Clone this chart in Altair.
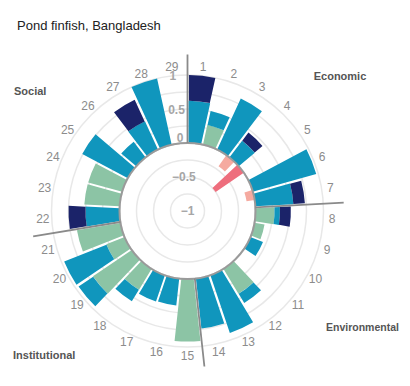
import math
import altair as alt
import pandas as pd

# ---- data ----
spokes = list(range(1, 30))
green = [0, 0.30, 0, 0, 0, 0, 0, 0.28, 0.15, 0, 0, 0.43, 0, 0, 0.92,
         0, 0, 0.36, 0.69, 0.29, 0.65, 0, 0.52, 0.52, 0, 0, 0, 0, 0]
teal = [0.62, 0.21, 0.83, 0.31, 0, 0.97, 0.56, 0.08, 0, 0.20, 0, 0.16, 0.90, 0.74, 0,
        0.40, 0.41, 0.20, 0.26, 0.67, 0, 0.50, 0, 0, 0.76, 0.29, 0.46, 1.0, 0]
navy = [0.38, 0, 0, 0.15, 0, 0, 0.17, 0.16, 0, 0, 0, 0, 0, 0, 0,
        0, 0, 0, 0, 0, 0, 0.25, 0, 0, 0, 0, 0.35, 0, 0]
pink_light = [0, 0, 0, -0.20, 0, 0, -0.12, 0, 0, 0, 0, 0, 0, 0, 0,
              0, 0, 0, 0, 0, 0, 0, 0, 0, 0, 0, 0, 0, 0]
pink_dark = [0, 0, 0, 0, -0.50, 0, 0, 0, 0, 0, 0, 0, 0, 0, 0,
             0, 0, 0, 0, 0, 0, 0, 0, 0, 0, 0, 0, 0, 0]

tick_values = [-1, -0.5, 0.5, 1]
tick_labels = ["\u22121", "\u22120.5", "0.5", "1"]
grid_values = [-0.75, -0.5, -0.25, 0.25, 0.5, 0.75, 1.0]
section_bounds = [0, 7, 14, 21]

group_names = ["green", "teal", "navy", "pink_light", "pink_dark"]
group_colors = ["#8cc4a5", "#1096bd", "#1b2369", "#f5aaa0", "#ee6e7d"]

# ---- tables ----
rows = []
for i, k in enumerate(spokes):
    base = 0.0
    for name, arr in (("green", green), ("teal", teal), ("navy", navy)):
        v = arr[i]
        if v > 0:
            rows.append(dict(spoke=k, grp=name, t0=k - 1, t1=k, r0=base, r1=base + v))
            base += v
seg = pd.DataFrame(rows)

prow = []
for i, k in enumerate(spokes):
    for name, arr in (("pink_light", pink_light), ("pink_dark", pink_dark)):
        if arr[i] < 0:
            prow.append(dict(spoke=k, grp=name, t0=k - 1.2, t1=k - 0.5, r0=0.0, r1=arr[i]))
pinks = pd.DataFrame(prow)

grid = pd.DataFrame({"v": grid_values, "t0": 0, "t1": 29})
zero = pd.DataFrame({"v": [0.0], "t0": [0], "t1": [29]})
bounds = pd.DataFrame({"b": section_bounds, "r0": 0.0, "r1": 1.3})
lab = pd.DataFrame({"spoke": spokes, "t": [k - 0.5 for k in spokes], "r": 1.13,
                    "txt": [str(k) for k in spokes]})
ticks = pd.DataFrame({"v": tick_values, "txt": tick_labels, "t": 28.5})
tick0 = pd.DataFrame({"v": [0.0], "txt": ["0"], "t": [28.5]})

CX, CY = 179.5, 203
TH = alt.Scale(domain=[0, 29], range=[0, 2 * math.pi])
RS = alt.Scale(type="linear", domain=[-1, 1], range=[0, 136], zero=False, nice=False)
COL = alt.Scale(domain=group_names, range=group_colors)
cx = alt.value(CX)
cy = alt.value(CY)

grid_layer = alt.Chart(grid).mark_arc(fillOpacity=0, stroke="#e8e8e8", strokeWidth=1.5).encode(
    theta=alt.Theta("t0:Q", scale=TH, stack=False), theta2="t1:Q",
    radius=alt.Radius("v:Q", scale=RS), x=cx, y=cy)

bars = alt.Chart(seg).mark_arc(padAngle=0.016).encode(
    theta=alt.Theta("t0:Q", scale=TH, stack=False), theta2="t1:Q",
    radius=alt.Radius("r1:Q", scale=RS), radius2="r0:Q",
    color=alt.Color("grp:N", scale=COL, legend=None), x=cx, y=cy)

pink_layer = alt.Chart(pinks).mark_arc().encode(
    theta=alt.Theta("t0:Q", scale=TH, stack=False), theta2="t1:Q",
    radius=alt.Radius("r1:Q", scale=RS), radius2="r0:Q",
    color=alt.Color("grp:N", scale=COL, legend=None), x=cx, y=cy)

zero_layer = alt.Chart(zero).mark_arc(fillOpacity=0, stroke="#9a9a9a", strokeWidth=2).encode(
    theta=alt.Theta("t0:Q", scale=TH, stack=False), theta2="t1:Q",
    radius=alt.Radius("v:Q", scale=RS), x=cx, y=cy)

line_layer = alt.Chart(bounds).mark_arc(fillOpacity=0, stroke="#8a8a8a", strokeWidth=1.8).encode(
    theta=alt.Theta("b:Q", scale=TH, stack=False), theta2="b:Q",
    radius=alt.Radius("r1:Q", scale=RS), radius2="r0:Q", x=cx, y=cy)

spoke_labels = alt.Chart(lab).mark_text(fontSize=12, color="#8c8c8c", font="Liberation Sans",
                                        align="center", baseline="middle").encode(
    theta=alt.Theta("t:Q", scale=TH, stack=False),
    radius=alt.Radius("r:Q", scale=RS), text="txt:N", x=cx, y=cy)

tick_layer = alt.Chart(ticks).mark_text(fontSize=12, color="#a6a6a6", fontWeight="bold",
                                        font="Liberation Sans", align="center", baseline="middle").encode(
    theta=alt.Theta("t:Q", scale=TH, stack=False),
    radius=alt.Radius("v:Q", scale=RS), text="txt:N", x=cx, y=cy)

tick0_layer = alt.Chart(tick0).mark_text(fontSize=12, color="#a6a6a6", fontWeight="bold",
                                         font="Liberation Sans", align="center", baseline="middle",
                                         dy=-5).encode(
    theta=alt.Theta("t:Q", scale=TH, stack=False),
    radius=alt.Radius("v:Q", scale=RS), text="txt:N", x=cx, y=cy)


def note(txt, x, y, align, size=11, weight="bold", color="#555555"):
    return alt.Chart(pd.DataFrame({"t": [txt]})).mark_text(
        align=align, baseline="middle", fontSize=size, fontWeight=weight, color=color,
        font="Liberation Sans").encode(text="t:N", x=alt.value(x), y=alt.value(y))


title = note("Pond finfish, Bangladesh", 9, 18, "left", size=13, weight="normal", color="#222222")
econ = note("Economic", 332, 69, "center")
social = note("Social", 6, 84, "left")
env = note("Environmental", 318, 320, "left", size=10.5)
inst = note("Institutional", 5, 348, "left")

chart = alt.layer(grid_layer, bars, pink_layer, zero_layer, line_layer, spoke_labels,
                  tick_layer, tick0_layer, title, econ, social, env, inst).properties(
    width=394, height=370, padding=0, autosize="none"
).configure_view(stroke="transparent")

chart.save("out.html", embed_options={"renderer": "svg", "actions": False})
